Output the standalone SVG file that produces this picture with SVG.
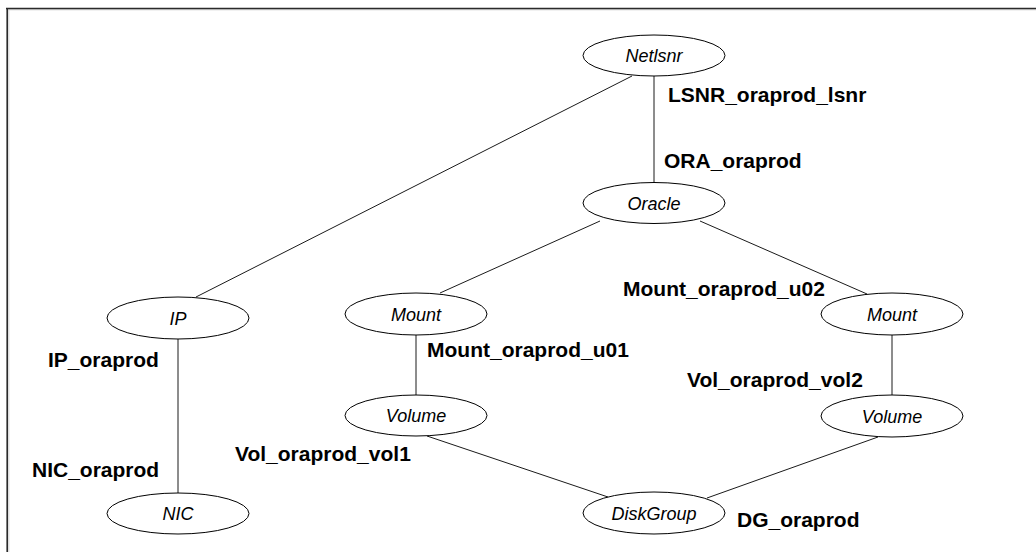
<svg xmlns="http://www.w3.org/2000/svg" width="1036" height="552" viewBox="0 0 1036 552">
<style>
.node ellipse{fill:#fff;stroke:#000;stroke-width:1}
.node text{font-family:"Liberation Sans",Arial,sans-serif;font-style:italic;font-size:18px;fill:#000;text-anchor:middle}
.lbl{font-family:"Liberation Sans",Arial,sans-serif;font-weight:bold;font-size:21px;fill:#000}
#edges line{stroke:#1a1a1a;stroke-width:1}
</style>
<rect x="0" y="0" width="1036" height="552" fill="#fff"/>
<g id="frame">
<line x1="7.5" y1="9.8" x2="1036" y2="9.8" stroke="#d0d0d0" stroke-width="1"/>
<line x1="8.8" y1="9" x2="8.8" y2="552" stroke="#d0d0d0" stroke-width="1"/>
<line x1="6" y1="8.5" x2="1036" y2="8.5" stroke="#2a2a2a" stroke-width="1.6"/>
<line x1="7.2" y1="8" x2="7.2" y2="552" stroke="#2a2a2a" stroke-width="1.6"/>
</g>
<g id="edges">
<line x1="654" y1="76" x2="654" y2="183"/>
<line x1="632" y1="76" x2="196" y2="297"/>
<line x1="600" y1="221" x2="440" y2="293"/>
<line x1="700" y1="221" x2="867" y2="294"/>
<line x1="416" y1="335" x2="416" y2="395"/>
<line x1="892" y1="335" x2="892" y2="395"/>
<line x1="427" y1="436" x2="608" y2="497"/>
<line x1="878" y1="437" x2="707" y2="498"/>
<line x1="178" y1="339" x2="178" y2="493"/>
</g>
<g id="netlsnr" class="node"><ellipse cx="654" cy="55.5" rx="71" ry="20.5"/><text x="654" y="62">Netlsnr</text></g>
<g id="oracle" class="node"><ellipse cx="654" cy="203" rx="71" ry="20.5"/><text x="654" y="209.5">Oracle</text></g>
<g id="ip" class="node"><ellipse cx="178" cy="318" rx="71" ry="21"/><text x="178" y="324.5">IP</text></g>
<g id="nic" class="node"><ellipse cx="178" cy="513.5" rx="71" ry="20.5"/><text x="178" y="520">NIC</text></g>
<g id="mount1" class="node"><ellipse cx="416" cy="314" rx="71" ry="21"/><text x="416" y="320.5">Mount</text></g>
<g id="volume1" class="node"><ellipse cx="416" cy="415.5" rx="71" ry="20.5"/><text x="416" y="422">Volume</text></g>
<g id="mount2" class="node"><ellipse cx="892" cy="314" rx="71" ry="21"/><text x="892" y="320.5">Mount</text></g>
<g id="volume2" class="node"><ellipse cx="892" cy="416" rx="71" ry="21"/><text x="892" y="422.5">Volume</text></g>
<g id="diskgroup" class="node"><ellipse cx="654" cy="513" rx="71" ry="21"/><text x="654" y="519.5">DiskGroup</text></g>
<g id="labels">
<text class="lbl" x="668" y="102">LSNR_oraprod_lsnr</text>
<text class="lbl" x="664" y="168">ORA_oraprod</text>
<text class="lbl" x="48" y="367">IP_oraprod</text>
<text class="lbl" x="32" y="477">NIC_oraprod</text>
<text class="lbl" x="427" y="357">Mount_oraprod_u01</text>
<text class="lbl" x="235" y="461">Vol_oraprod_vol1</text>
<text class="lbl" x="623" y="296">Mount_oraprod_u02</text>
<text class="lbl" x="687" y="387">Vol_oraprod_vol2</text>
<text class="lbl" x="737" y="527">DG_oraprod</text>
</g>
</svg>
